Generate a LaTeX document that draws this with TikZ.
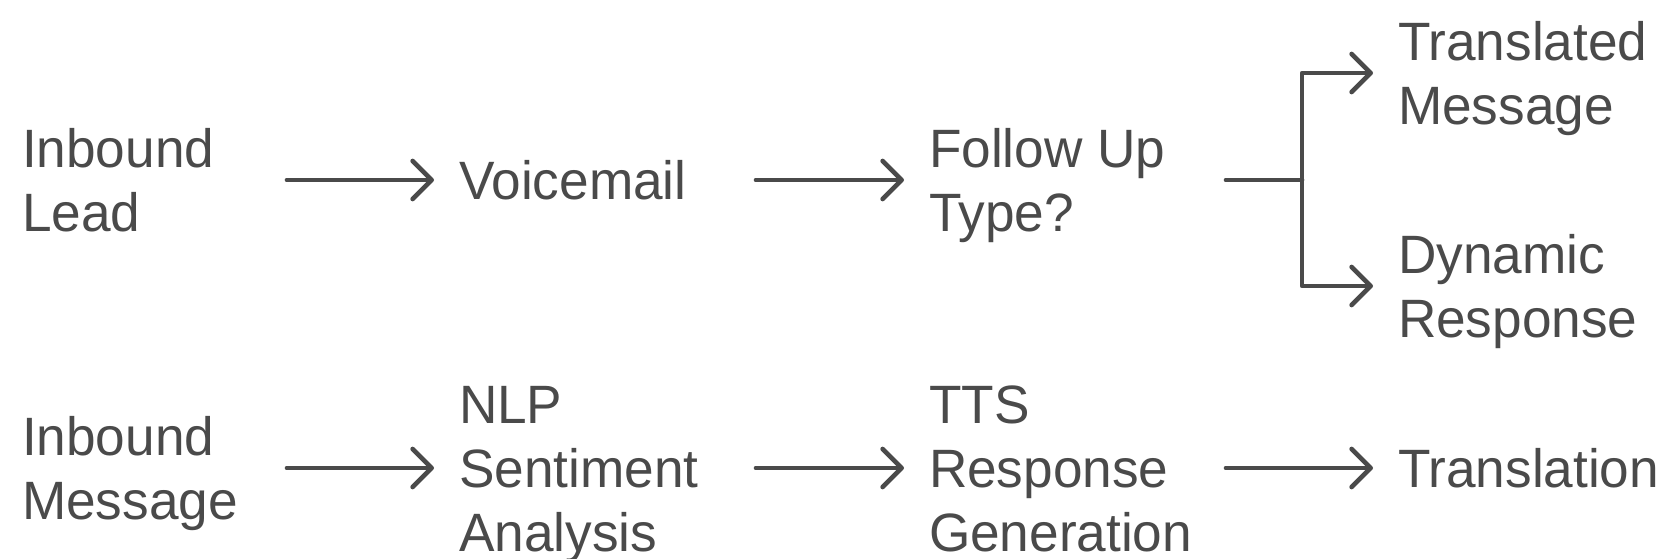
\documentclass[tikz,border=0pt]{standalone}
\usepackage{fontspec}
\setmainfont[FakeStretch=0.985]{Liberation Sans}
\usetikzlibrary{arrows.meta,calc}
\definecolor{ink}{HTML}{4A4A4A}
% label: fixed-width box holding a left-aligned stack of lines, baseline on the first line
\newcommand{\lbl}[2]{\makebox[#1][l]{\fontsize{54}{64}\selectfont\begin{tabular}[t]{@{}l@{}}#2\end{tabular}}}
\begin{document}
\begin{tikzpicture}[x=1pt,y=-1pt,
  every node/.style={inner sep=0pt, outer sep=0pt, anchor=base west, text=ink},
  conn/.style={draw=ink, line width=4.7pt, line cap=round, line join=round},
  arr/.style={conn, -{Straight Barb[length=19pt,width=38pt,round]}}]
\useasboundingbox (0,0) rectangle (1670,559);
\fill[white] (0,0) rectangle (1670,559);

% row heights
\coordinate (top) at (0,180);
\coordinate (bot) at (0,468);
\coordinate (up)  at (0,73);
\coordinate (dn)  at (0,286);
\coordinate (split) at (1302,180);

% upper flow
\node (lead) at (22,167.5)  {\lbl{265pt}{Inbound\\Lead}};
\node (vm)   at (459,199.5) {\lbl{297pt}{Voicemail}};
\node (fu)   at (929,167.5) {\lbl{297pt}{Follow Up\\Type?}};
\node (tm)   at (1398,60.5) {\lbl{260pt}{Translated\\Message}};
\node (dr)   at (1398,273.5){\lbl{260pt}{Dynamic\\Response}};

% lower flow
\node (im)   at (22,455.5)  {\lbl{265pt}{Inbound\\Message}};
\node (nlp)  at (459,423.5) {\lbl{297pt}{NLP\\Sentiment\\Analysis}};
\node (tts)  at (929,423.5) {\lbl{297pt}{TTS\\Response\\Generation}};
\node (tr)   at (1398,487.5){\lbl{260pt}{Translation}};

% connectors
\draw[arr] (lead.east |- top) -- ([xshift=-25pt]vm.west |- top);
\draw[arr] (vm.east |- top) -- ([xshift=-25pt]fu.west |- top);
\draw[conn] (fu.east |- top) -- (split);
\draw[arr] (split) |- ([xshift=-25pt]tm.west |- up);
\draw[arr] (split) |- ([xshift=-25pt]dr.west |- dn);

\draw[arr] (im.east |- bot) -- ([xshift=-25pt]nlp.west |- bot);
\draw[arr] (nlp.east |- bot) -- ([xshift=-25pt]tts.west |- bot);
\draw[arr] (tts.east |- bot) -- ([xshift=-25pt]tr.west |- bot);
\end{tikzpicture}
\end{document}
